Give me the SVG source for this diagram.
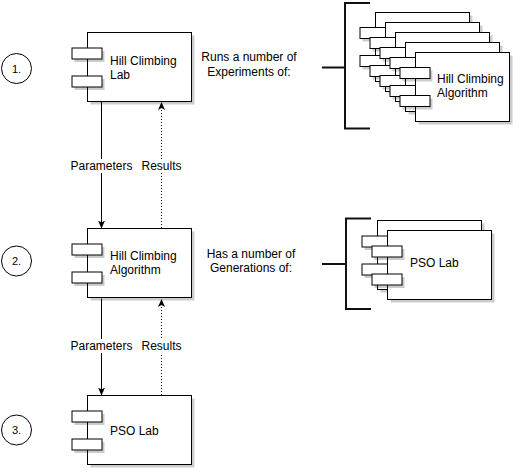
<svg xmlns="http://www.w3.org/2000/svg" width="523" height="473" viewBox="0 0 523 473">
<style>
.body{fill:#fff;stroke:#000;stroke-width:1}
.shadow{fill:#000;opacity:0.2}
.t{font-family:"Liberation Sans",Arial,Helvetica,sans-serif;font-size:12px;fill:#000}
.num{font-family:"Liberation Sans",Arial,Helvetica,sans-serif;font-size:11px;fill:#000;text-anchor:middle}
.circ{fill:#fff;stroke:#000;stroke-width:1}
.br{fill:none;stroke:#111;stroke-width:2}
.edge{fill:none;stroke:#000;stroke-width:1}
.dot{stroke-dasharray:1 2}
.lbl{fill:#fff}
</style>
<defs>
<marker id="arr" markerUnits="userSpaceOnUse" markerWidth="8" markerHeight="8" viewBox="0 0 8 8" refX="8" refY="4" orient="auto">
<path d="M0,0.5 L8,4 L0,7.5 L2,4 z" fill="#000"/>
</marker>
<g id="comp104">
<rect class="shadow" x="3" y="3" width="104" height="69"/>
<rect class="body" x="0" y="0" width="104" height="69"/>
<rect class="shadow" x="-13" y="18.5" width="30" height="11"/>
<rect class="body" x="-15.5" y="15.5" width="30" height="11"/>
<rect class="shadow" x="-13" y="46.5" width="30" height="11"/>
<rect class="body" x="-15.5" y="43.5" width="30" height="11"/>
</g>
<g id="comp94">
<rect class="shadow" x="3" y="3" width="94" height="69"/>
<rect class="body" x="0" y="0" width="94" height="69"/>
<rect class="shadow" x="-13" y="18" width="30" height="11"/>
<rect class="body" x="-15.5" y="15" width="30" height="11"/>
<rect class="shadow" x="-13" y="46" width="30" height="11"/>
<rect class="body" x="-15.5" y="43" width="30" height="11"/>
</g>
</defs>
<rect x="0" y="0" width="523" height="473" fill="#fff"/>

<g id="connectors">
<line class="edge" x1="101.5" y1="101.5" x2="101.5" y2="228.5" marker-end="url(#arr)"/>
<line class="edge dot" x1="161.5" y1="228" x2="161.5" y2="102" marker-end="url(#arr)"/>
<line class="edge" x1="101.5" y1="298.5" x2="101.5" y2="395.5" marker-end="url(#arr)"/>
<line class="edge dot" x1="161.5" y1="395" x2="161.5" y2="299" marker-end="url(#arr)"/>
<rect class="lbl" x="72" y="159" width="59" height="14"/>
<text class="t" x="101.5" y="170" text-anchor="middle">Parameters</text>
<rect class="lbl" x="142" y="159" width="39" height="14"/>
<text class="t" x="161.5" y="170" text-anchor="middle">Results</text>
<rect class="lbl" x="72" y="339" width="59" height="14"/>
<text class="t" x="101.5" y="350" text-anchor="middle">Parameters</text>
<rect class="lbl" x="142" y="339" width="39" height="14"/>
<text class="t" x="161.5" y="350" text-anchor="middle">Results</text>
</g>

<g id="step1">
<circle class="circ" cx="16.5" cy="68.5" r="15"/>
<text class="num" x="16.5" y="72.5">1.</text>
</g>
<g id="step2">
<circle class="circ" cx="16.5" cy="261" r="15"/>
<text class="num" x="16.5" y="265">2.</text>
</g>
<g id="step3">
<circle class="circ" cx="16.5" cy="430" r="15"/>
<text class="num" x="16.5" y="434">3.</text>
</g>

<g id="hill-climbing-lab">
<use href="#comp104" x="87.5" y="32.5"/>
<text class="t" x="110" y="65">Hill Climbing</text>
<text class="t" x="110" y="79">Lab</text>
</g>
<g id="hill-climbing-algorithm">
<use href="#comp104" x="87.5" y="228.5"/>
<text class="t" x="110" y="259.5">Hill Climbing</text>
<text class="t" x="110" y="273.5">Algorithm</text>
</g>
<g id="pso-lab">
<use href="#comp104" x="87.5" y="395.5"/>
<text class="t" x="110" y="434.5">PSO Lab</text>
</g>

<g id="note1">
<text class="t" x="249" y="60.5" text-anchor="middle">Runs a number of</text>
<text class="t" x="249" y="75.5" text-anchor="middle">Experiments of:</text>
</g>
<g id="note2">
<text class="t" x="251" y="257.5" text-anchor="middle">Has a number of</text>
<text class="t" x="251" y="272" text-anchor="middle">Generations of:</text>
</g>

<g id="bracket1">
<path class="br" d="M370,3 H345 V128.5 H370 M322,67.5 H345"/>
</g>
<g id="bracket2">
<path class="br" d="M371,218.5 H346 V309 H371 M322,264 H346"/>
</g>

<g id="experiments-stack">
<use href="#comp94" x="375.5" y="12.5"/>
<use href="#comp94" x="385.5" y="22.5"/>
<use href="#comp94" x="395.5" y="32.5"/>
<use href="#comp94" x="405.5" y="42.5"/>
<use href="#comp94" x="415.5" y="52.5"/>
<text class="t" x="437" y="83">Hill Climbing</text>
<text class="t" x="437" y="96.5">Algorithm</text>
</g>

<g id="generations-stack">
<use href="#comp104" x="377.5" y="220.5"/>
<use href="#comp104" x="387.5" y="230.5"/>
<text class="t" x="410" y="267">PSO Lab</text>
</g>
</svg>
